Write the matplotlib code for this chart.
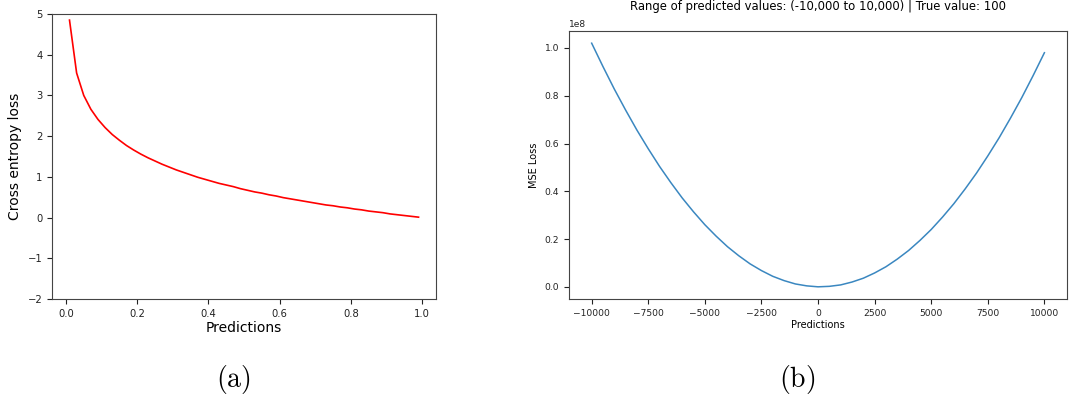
import matplotlib
matplotlib.use("Agg")
import matplotlib.pyplot as plt

plt.rcParams["mathtext.fontset"] = "cm"

# (a) cross entropy loss vs predicted probability
pred_prob = [round(0.01 + 0.02 * i, 2) for i in range(50)]
ce_loss = [4.85, 3.55, 3.00, 2.66, 2.41, 2.21, 2.04, 1.90, 1.77, 1.66,
           1.56, 1.47, 1.39, 1.31, 1.24, 1.17, 1.11, 1.05, 0.99, 0.94,
           0.89, 0.84, 0.80, 0.76, 0.71, 0.67, 0.63, 0.60, 0.56, 0.53,
           0.49, 0.46, 0.43, 0.40, 0.37, 0.34, 0.31, 0.29, 0.26, 0.24,
           0.21, 0.19, 0.16, 0.14, 0.12, 0.09, 0.07, 0.05, 0.03, 0.01]

# (b) MSE loss vs predicted value (true value 100), in units of 1e8
pred_val = list(range(-10000, 10001, 500))
mse_loss = [1.020, 0.922, 0.828, 0.740, 0.656, 0.578, 0.504, 0.436, 0.372, 0.314,
            0.260, 0.212, 0.168, 0.130, 0.096, 0.068, 0.044, 0.026, 0.012, 0.004,
            0.000, 0.002, 0.008, 0.020, 0.036, 0.058, 0.084, 0.116, 0.152, 0.194,
            0.240, 0.292, 0.348, 0.410, 0.476, 0.548, 0.624, 0.706, 0.792, 0.884,
            0.980]

fig = plt.figure(figsize=(10.71, 4.0), dpi=100)

ax1 = fig.add_axes([0.0486, 0.2525, 0.3585, 0.7125])
ax1.plot(pred_prob, ce_loss, color="red", linewidth=1.2)
ax1.set_ylim(-2, 5)
ax1.set_xlabel("Predictions", fontsize=10, labelpad=2)
ax1.set_ylabel("Cross entropy loss", fontsize=10)
ax1.tick_params(labelsize=7.2, colors="#222222")

ax2 = fig.add_axes([0.5313, 0.2525, 0.465, 0.67])
ax2.plot(pred_val, [v * 1e8 for v in mse_loss], color="#3a87c0", linewidth=1.1)
ax2.set_xlabel("Predictions", fontsize=7, labelpad=2)
ax2.set_ylabel("MSE Loss", fontsize=7)
ax2.set_title("Range of predicted values: (-10,000 to 10,000) | True value: 100",
              fontsize=8.4, pad=15)
ax2.tick_params(labelsize=6.6, colors="#222222")
ax2.yaxis.get_offset_text().set_fontsize(6.6)

for ax in (ax1, ax2):
    for s in ax.spines.values():
        s.set_color("#444444")

fig.text(0.2175, 0.05, r"$\mathrm{(a)}$", fontsize=20, ha="center", va="center")
fig.text(0.744, 0.05, r"$\mathrm{(b)}$", fontsize=20, ha="center", va="center")

fig.savefig("out.png", dpi=100)
